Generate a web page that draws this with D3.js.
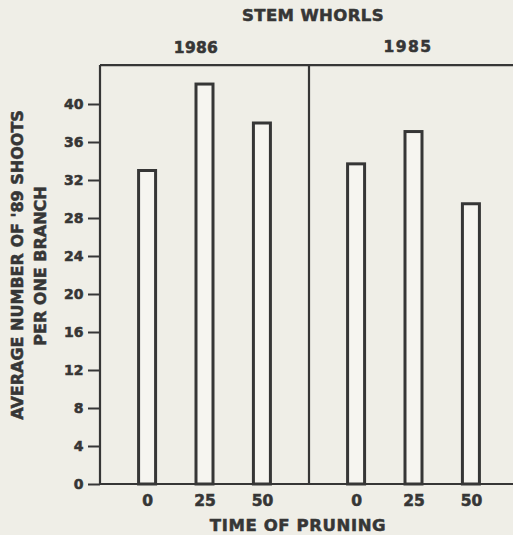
<!DOCTYPE html>
<html>
<head>
<meta charset="utf-8">
<script src="https://cdn.jsdelivr.net/npm/d3@7"></script>
<style>
  html, body { margin: 0; padding: 0; background: #efeee7; }
  svg { display: block; }
  text { font-family: "DejaVu Sans", "Liberation Sans", sans-serif; font-weight: bold; fill: #363636; stroke: #363636; stroke-width: 0.55px; }
</style>
</head>
<body>
<svg id="chart" width="513" height="535"></svg>
<script>
// Stem whorl year groups, pruning times and mean shoot counts
const groups = ["1986", "1985"];
const pruningTimes = ["0", "25", "50"];
const shoots1986 = [33.0, 42.1, 38.0];
const shoots1985 = [33.7, 37.1, 29.5];
const yTicks = [0, 4, 8, 12, 16, 20, 24, 28, 32, 36, 40];

const seriesByGroup = { "1986": shoots1986, "1985": shoots1985 };
const rows = [];
groups.forEach(g => pruningTimes.forEach((t, i) => rows.push({ group: g, time: t, value: seriesByGroup[g][i] })));

const ink = "#363636";
const svg = d3.select("#chart");
const W = 513;

const y = d3.scaleLinear().domain([0, 40]).range([484, 104]);
const yMax = 44.1;

// one panel per stem-whorl year
const xGroup = d3.scaleBand().domain(groups).range([100, 518]).padding(0);
const xTime = d3.scalePoint().domain(pruningTimes).range([0, xGroup.bandwidth()]).padding(0.82);
const barW = 17;

// frame: top rule, left axis line, panel divider, baseline
const frame = svg.append("g").attr("stroke", ink).attr("fill", "none");
frame.append("line").attr("x1", 100).attr("x2", W + 5).attr("y1", y(yMax)).attr("y2", y(yMax)).attr("stroke-width", 2.2);
frame.append("line").attr("x1", 100).attr("x2", 100).attr("y1", y(yMax)).attr("y2", y(0)).attr("stroke-width", 2.2);
frame.append("line").attr("x1", xGroup("1985")).attr("x2", xGroup("1985")).attr("y1", y(yMax)).attr("y2", y(0)).attr("stroke-width", 2.2);
frame.append("line").attr("x1", 100).attr("x2", W + 5).attr("y1", y(0)).attr("y2", y(0)).attr("stroke-width", 2.2);

// y axis ticks and labels
const yAxis = svg.append("g")
  .attr("transform", "translate(100,0)")
  .call(d3.axisLeft(y).tickValues(yTicks).tickSize(12).tickPadding(4.5).tickFormat(d3.format("d")));
yAxis.select(".domain").remove();
yAxis.selectAll(".tick line").attr("stroke", ink).attr("stroke-width", 2);
yAxis.selectAll(".tick text").attr("fill", ink)
  .style("font-size", "14px").style("font-family", "'DejaVu Sans', sans-serif").style("font-weight", "bold");

// x axis labels for each panel
groups.forEach(g => {
  const ax = svg.append("g")
    .attr("transform", `translate(${xGroup(g)},${y(0)})`)
    .call(d3.axisBottom(xTime).tickSize(0).tickPadding(11));
  ax.select(".domain").remove();
  ax.selectAll(".tick text").attr("fill", ink)
    .style("font-size", "15.5px").style("font-family", "'DejaVu Sans', sans-serif").style("font-weight", "bold");
});

// hollow bars
svg.append("g").selectAll("rect").data(rows).join("rect")
  .attr("x", d => xGroup(d.group) + xTime(d.time) - barW / 2)
  .attr("y", d => y(d.value))
  .attr("width", barW)
  .attr("height", d => y(0) - y(d.value))
  .attr("fill", "#f6f5f0")
  .attr("stroke", ink)
  .attr("stroke-width", 3);

// titles
svg.append("text").attr("x", 313).attr("y", 21).attr("text-anchor", "middle")
  .style("font-size", "16.5px").attr("letter-spacing", 0.4).text("STEM WHORLS");
svg.append("text").attr("x", 196).attr("y", 53).attr("text-anchor", "middle")
  .style("font-size", "15.5px").attr("letter-spacing", 0.3).text("1986");
svg.append("text").attr("x", 408).attr("y", 52).attr("text-anchor", "middle")
  .style("font-size", "15.5px").attr("letter-spacing", 1.5).text("1985");

svg.append("text").attr("x", 298).attr("y", 531).attr("text-anchor", "middle")
  .style("font-size", "16.5px").attr("letter-spacing", 0.6).text("TIME OF PRUNING");

// y axis title, two rotated lines
svg.append("text").attr("transform", "translate(23,265) rotate(-90)").attr("text-anchor", "middle")
  .style("font-size", "16px").text("AVERAGE NUMBER OF '89 SHOOTS");
svg.append("text").attr("transform", "translate(46,266) rotate(-90)").attr("text-anchor", "middle")
  .style("font-size", "16px").text("PER ONE BRANCH");
</script>
</body>
</html>
